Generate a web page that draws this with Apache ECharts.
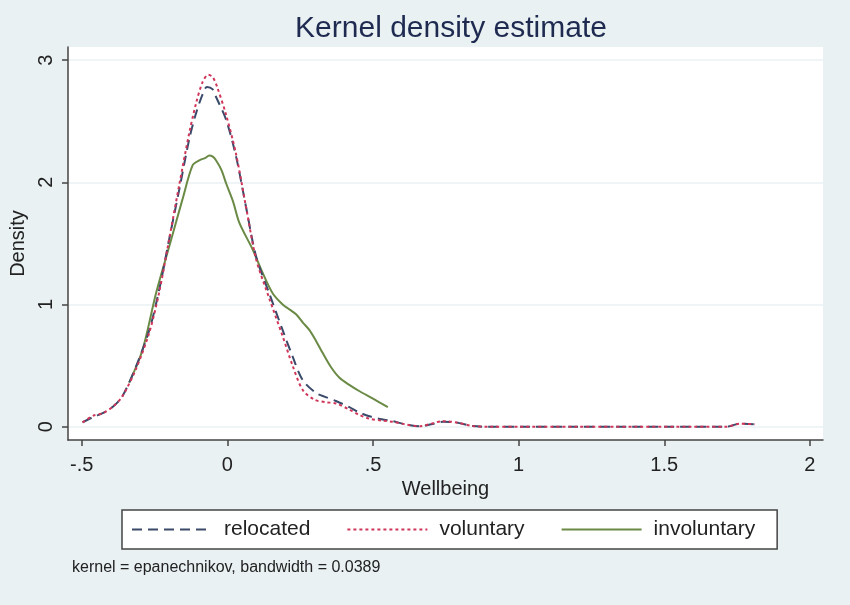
<!DOCTYPE html>
<html>
<head>
<meta charset="utf-8">
<script src="https://cdn.jsdelivr.net/npm/echarts@6/dist/echarts.min.js"></script>
<style>
html,body{margin:0;padding:0;background:#e9f1f3;}
#chart{width:850px;height:605px;}
</style>
</head>
<body>
<div id="chart"></div>
<script>
// ---- data ----
var xTicks = [-0.5, 0, 0.5, 1, 1.5, 2];
var xTickLabels = ['-.5', '0', '.5', '1', '1.5', '2'];
var yTicks = [0, 1, 2, 3];

var relocatedX = [-0.497,-0.46,-0.428,-0.39,-0.36,-0.314,-0.268,-0.234,-0.2,-0.165,-0.131,-0.108,-0.085,-0.07,-0.05,-0.039,-0.004,0.03,0.064,0.099,0.144,0.19,0.224,0.259,0.305,0.34,0.373,0.419,0.45,0.488,0.53,0.568,0.61,0.66,0.70,0.74,0.786,0.843,0.9,1.0,1.2,1.4,1.6,1.714,1.76,1.81];
var relocatedY = [0.035,0.08,0.11,0.17,0.25,0.49,0.79,1.12,1.53,1.94,2.35,2.56,2.72,2.78,2.76,2.70,2.51,2.21,1.80,1.39,1.09,0.79,0.575,0.38,0.275,0.24,0.21,0.16,0.12,0.085,0.06,0.045,0.02,0.003,0.02,0.04,0.035,0.005,0,0,0,0,0,0,0.025,0.02];

var voluntaryX = [-0.497,-0.46,-0.428,-0.39,-0.36,-0.314,-0.268,-0.234,-0.2,-0.165,-0.131,-0.108,-0.085,-0.065,-0.05,-0.035,-0.004,0.03,0.064,0.099,0.144,0.19,0.224,0.259,0.30,0.34,0.373,0.419,0.45,0.488,0.53,0.568,0.61,0.66,0.70,0.74,0.786,0.843,0.9,1.0,1.2,1.4,1.6,1.714,1.76,1.81];
var voluntaryY = [0.035,0.09,0.11,0.17,0.25,0.47,0.77,1.10,1.53,1.98,2.40,2.64,2.82,2.88,2.86,2.78,2.55,2.23,1.80,1.37,1.05,0.74,0.50,0.30,0.22,0.20,0.19,0.14,0.10,0.065,0.05,0.04,0.02,0.003,0.025,0.045,0.035,0.005,0,0,0,0,0,0,0.025,0.02];

var involuntaryX = [-0.337,-0.291,-0.245,-0.2,-0.154,-0.119,-0.096,-0.075,-0.062,-0.05,-0.039,-0.02,-0.004,0.02,0.041,0.087,0.121,0.156,0.19,0.213,0.236,0.26,0.282,0.305,0.328,0.355,0.385,0.42,0.454,0.50,0.551];
var involuntaryY = [0.36,0.63,1.09,1.47,1.86,2.14,2.18,2.20,2.22,2.21,2.18,2.10,1.99,1.84,1.67,1.45,1.26,1.09,1.00,0.96,0.92,0.85,0.79,0.70,0.60,0.49,0.40,0.34,0.29,0.23,0.16];

function pairs(xs, ys){ return xs.map(function(x,i){ return [x, ys[i]]; }); }

var FONT = 'Arial, "Liberation Sans", sans-serif';
var chart = echarts.init(document.getElementById('chart'));
chart.setOption({
  backgroundColor: '#e9f1f3',
  animation: false,
  title: {
    text: 'Kernel density estimate',
    left: 446, top: 9, textAlign: 'center',
    textStyle: { fontFamily: FONT, fontSize: 30, fontWeight: 'normal', color: '#1e2a50' }
  },
  grid: {
    left: 68, right: 27, top: 47, bottom: 165,
    show: true, backgroundColor: '#ffffff', borderWidth: 0
  },
  xAxis: {
    type: 'value', min: -0.547, max: 2.045,
    name: 'Wellbeing', nameLocation: 'middle', nameGap: 38,
    nameTextStyle: { fontFamily: FONT, fontSize: 20, color: '#222' },
    axisLine: { show: true, onZero: false, lineStyle: { color: '#444', width: 1.5 } },
    axisTick: { show: true, length: 6, customValues: xTicks, lineStyle: { color: '#444', width: 1.5 } },
    axisLabel: { customValues: xTicks, margin: 15, fontFamily: FONT, fontSize: 20, color: '#222',
      formatter: function(v){ var i = xTicks.indexOf(v); return i >= 0 ? xTickLabels[i] : ''; } },
    splitLine: { show: false }
  },
  yAxis: {
    type: 'value', min: -0.109, max: 3.107,
    name: 'Density', nameLocation: 'middle', nameGap: 38,
    nameTextStyle: { fontFamily: FONT, fontSize: 20, color: '#222' },
    axisLine: { show: true, onZero: false, lineStyle: { color: '#444', width: 1.5 } },
    axisTick: { show: true, length: 6, customValues: yTicks, lineStyle: { color: '#444', width: 1.5 } },
    axisLabel: { customValues: yTicks, rotate: 90, margin: 12, fontFamily: FONT, fontSize: 20, color: '#222' },
    splitLine: { show: true, lineStyle: { color: '#eaf2f3', width: 1.5 } }
  },
  legend: {
    left: 122, top: 510,
    itemWidth: 80, itemHeight: 14, itemGap: 36,
    padding: [9, 22, 9, 9],
    backgroundColor: '#ffffff', borderColor: '#444', borderWidth: 1.5, borderRadius: 0,
    itemStyle: { opacity: 0 },
    textStyle: { fontFamily: FONT, fontSize: 21, color: '#222', padding: [0, 0, 0, 7] },
    data: ['relocated', 'voluntary', 'involuntary']
  },
  graphic: [{
    type: 'text', left: 72, top: 560,
    style: { text: 'kernel = epanechnikov, bandwidth = 0.0389', fontFamily: FONT, fontSize: 16, fill: '#222' }
  }],
  series: [
    { name: 'relocated', type: 'line', data: pairs(relocatedX, relocatedY), symbol: 'none', smooth: 0.3,
      lineStyle: { color: '#3a4a6b', width: 2, type: [10, 6] }, itemStyle: { color: '#3a4a6b' }, z: 3 },
    { name: 'voluntary', type: 'line', data: pairs(voluntaryX, voluntaryY), symbol: 'none', smooth: 0.3,
      lineStyle: { color: '#d0355a', width: 2, type: [3, 3] }, itemStyle: { color: '#d0355a' }, z: 4 },
    { name: 'involuntary', type: 'line', data: pairs(involuntaryX, involuntaryY), symbol: 'none', smooth: 0.3,
      lineStyle: { color: '#6a8a45', width: 2, type: 'solid' }, itemStyle: { color: '#6a8a45' }, z: 2 }
  ]
});
</script>
</body>
</html>
